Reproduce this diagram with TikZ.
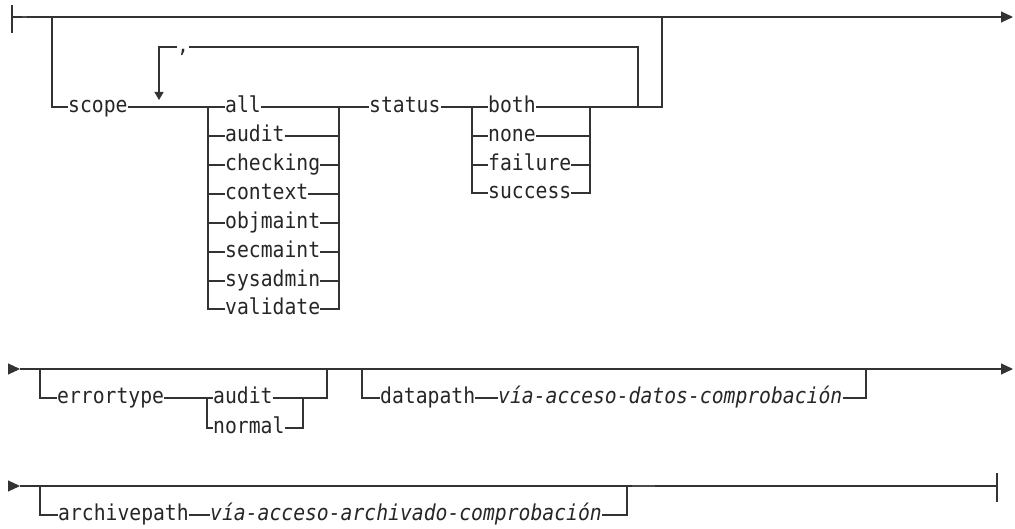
\documentclass[tikz,border=0pt]{standalone}
\usepackage{fontspec}
\setmonofont[FakeStretch=0.9]{DejaVu Sans Mono}
\usetikzlibrary{arrows.meta,positioning}

\begin{document}
\fontsize{21.9}{24}\selectfont\ttfamily
\begin{tikzpicture}[x=1pt, y=-1pt,
  rail/.style={draw=black!80, line width=1.1pt},
  kw/.style={inner sep=0pt, anchor=mid west, text=black!85, font=\ttfamily\fontsize{21.9}{24}\selectfont},
  var/.style={kw, font=\ttfamily\itshape\fontsize{21.9}{24}\selectfont},
  tip/.style={-{Triangle[length=12pt, width=11pt]}},
  downtip/.style={-{Triangle[length=8pt, width=9pt]}},
  tick/.style={draw=black!70, line width=2pt}]
\useasboundingbox (0,0) rectangle (1015,529);
% row 1
\coordinate (r1s) at (12,17);
\coordinate (r1e) at (1013,17);
\coordinate (optL) at (52,17);
\coordinate (optR) at (662,17);
\coordinate (loopR) at (638,107);
\coordinate (loopArrow) at (159,100);
\coordinate (scL) at (208,107);
\coordinate (scR) at (339,107);
\coordinate (stL) at (472,107);
\coordinate (stR) at (590,107);
\node[kw] (scope) at (68,107) {scope};
\node[kw] (comma) at (177,47) {,};
\node[kw] (all) at (225,107) {all};
\node[kw] (audit) at (225,136) {audit};
\node[kw] (checking) at (225,165) {checking};
\node[kw] (context) at (225,194) {context};
\node[kw] (objmaint) at (225,223) {objmaint};
\node[kw] (secmaint) at (225,252) {secmaint};
\node[kw] (sysadmin) at (225,281) {sysadmin};
\node[kw] (validate) at (225,309) {validate};
\node[kw] (status) at (369,107) {status};
\node[kw] (both) at (488,107) {both};
\node[kw] (none) at (488,136) {none};
\node[kw] (failure) at (488,165) {failure};
\node[kw] (success) at (488,193) {success};
\draw[rail, tip] (r1s) -- (r1e);
\draw[rail] ([yshift=12pt]r1s) -- ([yshift=-16pt]r1s);
\draw[tick] ([xshift=10pt, yshift=0.4pt]r1s) -- ([xshift=15pt, yshift=0.4pt]r1s);
\draw[rail] (optL) |- (scope.mid west);
\draw[rail] (scope.mid east) -- (all.mid west);
\draw[rail, downtip] (comma.mid west) -| (loopArrow);
\draw[rail] (comma.mid east) -| (loopR);
\draw[rail] (scL |- audit.mid west) -- (audit.mid west);
\draw[rail] (scL |- checking.mid west) -- (checking.mid west);
\draw[rail] (scL |- context.mid west) -- (context.mid west);
\draw[rail] (scL |- objmaint.mid west) -- (objmaint.mid west);
\draw[rail] (scL |- secmaint.mid west) -- (secmaint.mid west);
\draw[rail] (scL |- sysadmin.mid west) -- (sysadmin.mid west);
\draw[rail] (scL) |- (validate.mid west);
\draw[rail] (audit.mid east) -- (scR |- audit.mid east);
\draw[rail] (checking.mid east) -- (scR |- checking.mid east);
\draw[rail] (context.mid east) -- (scR |- context.mid east);
\draw[rail] (objmaint.mid east) -- (scR |- objmaint.mid east);
\draw[rail] (secmaint.mid east) -- (scR |- secmaint.mid east);
\draw[rail] (sysadmin.mid east) -- (scR |- sysadmin.mid east);
\draw[rail] (validate.mid east) -| (scR);
\draw[rail] (all.mid east) -- (status.mid west);
\draw[rail] (status.mid east) -- (both.mid west);
\draw[rail] (stL |- none.mid west) -- (none.mid west);
\draw[rail] (stL |- failure.mid west) -- (failure.mid west);
\draw[rail] (stL) |- (success.mid west);
\draw[rail] (none.mid east) -- (stR |- none.mid east);
\draw[rail] (failure.mid east) -- (stR |- failure.mid east);
\draw[rail] (success.mid east) -| (stR);
\draw[rail] (both.mid east) -| (optR);
% row 2
\coordinate (r2in) at (8,369);
\coordinate (r2go) at (20,369);
\coordinate (r2e) at (1013,369);
\coordinate (eL) at (40,369);
\coordinate (eR) at (327,369);
\coordinate (chL) at (207,398);
\coordinate (chR) at (303,398);
\coordinate (dL) at (362,369);
\coordinate (dR) at (866,369);
\node[kw] (errortype) at (57,398) {errortype};
\node[kw] (errAudit) at (213,398) {audit};
\node[kw] (normal) at (213,428) {normal};
\node[kw] (datapath) at (380,398) {datapath};
\node[var] (dataVar) at (498,398) {vía-acceso-datos-comprobación};
\draw[rail, tip] (r2in) -- (r2go);
\draw[rail, tip] (r2go) -- (r2e);
\draw[rail] (eL) |- (errortype.mid west);
\draw[rail] (errortype.mid east) -- (errAudit.mid west);
\draw[rail] (chL) |- (normal.mid west);
\draw[rail] (normal.mid east) -| (chR);
\draw[rail] (errAudit.mid east) -| (eR);
\draw[rail] (dL) |- (datapath.mid west);
\draw[rail] (datapath.mid east) -- (dataVar.mid west);
\draw[rail] (dataVar.mid east) -| (dR);
% row 3
\coordinate (r3in) at (8,486);
\coordinate (r3go) at (20,486);
\coordinate (r3e) at (997,486);
\coordinate (aL) at (40,486);
\coordinate (aR) at (627,486);
\node[kw] (archivepath) at (58,515) {archivepath};
\node[var] (archVar) at (210,515) {vía-acceso-archivado-comprobación};
\draw[rail, tip] (r3in) -- (r3go);
\draw[rail] (r3go) -- (r3e);
\draw[rail] ([yshift=13pt]r3e) -- ([yshift=-16pt]r3e);
\draw[tick] ([xshift=5pt, yshift=0.4pt]aR) -- ([xshift=28pt, yshift=0.4pt]aR);
\draw[rail] (aL) |- (archivepath.mid west);
\draw[rail] (archivepath.mid east) -- (archVar.mid west);
\draw[rail] (archVar.mid east) -| (aR);
\end{tikzpicture}
\end{document}
